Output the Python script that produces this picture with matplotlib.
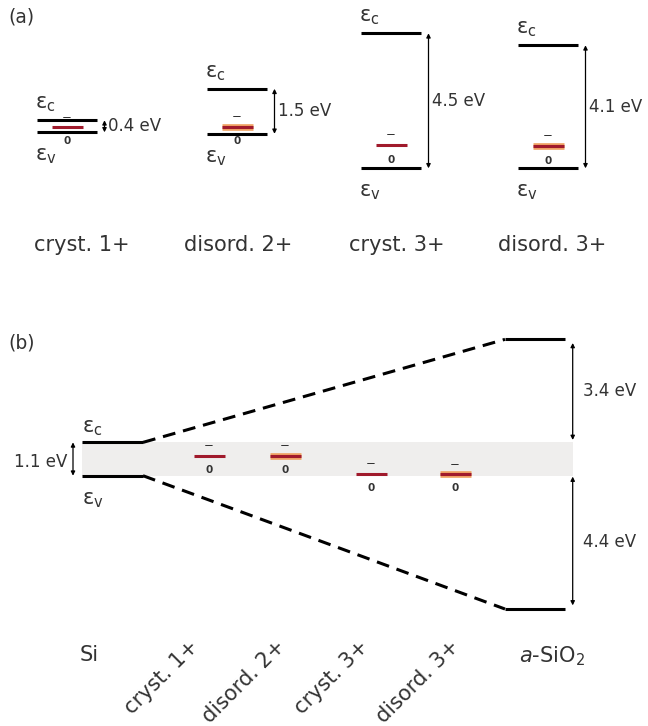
import matplotlib
matplotlib.use('Agg')
import matplotlib.pyplot as plt

# ---- donnees ----
# (a) niveaux par colonne (eV), relatifs a la bande de valence de chaque colonne
noms_a = ['cryst. 1+', 'disord. 2+', 'cryst. 3+', 'disord. 3+']
gap_a = [0.4, 1.5, 4.5, 4.1]
vbm_a = [1.2, 1.15, 0.0, 0.0]          # decalage vertical de chaque colonne
defaut_a = [0.17, 0.24, 0.78, 0.76]    # niveau du defaut au-dessus de Ev
desordre = [False, True, False, True]
etiquettes_gap_a = ['0.4 eV', '1.5 eV', '4.5 eV', '4.1 eV']

# (b) alignement sur Si (eV, origine = Ev du Si)
gap_si = 1.1
offset_bc = 3.4      # ecart des bandes de conduction Si / a-SiO2
offset_bv = 4.4      # ecart des bandes de valence Si / a-SiO2
defaut_b = [0.66, 0.66, 0.07, 0.05]

# ---- mise en page (pixels) ----
W, H = 648, 726
xa = [67, 237, 391, 548]          # centres des colonnes (a)
x_noms_a = [82, 238, 397, 552]    # centres des noms sous (a)
xb = [209, 285, 371, 455]         # centres des defauts (b)
x_noms_b = [196, 282, 366, 456]   # fin des noms inclines (b)
demi = 30                          # demi-largeur des niveaux de bande
texte = '#333333'
rouge = '#a01a2c'
orange = '#f0a264'

fig = plt.figure(figsize=(6.48, 7.26), dpi=100)

def barre_defaut(ax, x, y, dis):
    if dis:
        ax.plot([x - 15.5, x + 15.5], [y, y], color=orange, lw=4.8, solid_capstyle='butt')
    ax.plot([x - 15.5, x + 15.5], [y, y], color=rouge, lw=2.2, solid_capstyle='butt')

def charge(ax, x, y, dy_moins, dy_zero):
    ax.annotate('\u2212', xy=(x, y), xytext=(0, dy_moins), textcoords='offset pixels',
                ha='center', va='center', fontsize=8.5, color=texte)
    ax.annotate('0', xy=(x, y), xytext=(0, dy_zero), textcoords='offset pixels',
                ha='center', va='center', fontsize=7.5, fontweight='bold', color=texte)

def fleche(ax, x, y0, y1):
    ax.annotate('', xy=(x, y1), xytext=(x, y0),
                arrowprops=dict(arrowstyle='<|-|>', lw=0.9, color='black',
                                mutation_scale=6, shrinkA=0, shrinkB=0))

# ---------- panneau (a) ----------
ech_a = 30.0   # px / eV
ref_a = 168.3  # pixel de Ev = 0
ax_a = fig.add_axes([0, 1 - 260 / H, 1, 260 / H])
ax_a.set_xlim(0, W)
ax_a.set_ylim(-(260 - ref_a) / ech_a, ref_a / ech_a)
ax_a.axis('off')
ax_a.annotate('(a)', xy=(0, 1), xycoords='axes fraction', xytext=(8, -17),
              textcoords='offset pixels', ha='left', va='center', fontsize=13.5, color=texte)

for i, nom in enumerate(noms_a):
    x = xa[i]
    ev = vbm_a[i]
    ec = vbm_a[i] + gap_a[i]
    yd = vbm_a[i] + defaut_a[i]
    for y in (ev, ec):
        ax_a.plot([x - demi, x + demi], [y, y], color='black', lw=2.2, solid_capstyle='butt')
    barre_defaut(ax_a, x, yd, desordre[i])
    charge(ax_a, x, yd, 10, -14 if i < 2 else -15)
    fleche(ax_a, x + demi + 7.5, ev, ec)
    ax_a.annotate(etiquettes_gap_a[i], xy=(x + demi + 11, (ev + ec) / 2),
                  ha='left', va='center', fontsize=12, color=texte)
    ax_a.annotate('\u03b5$_\\mathregular{c}$', xy=(x - demi - 2, ec), xytext=(0, 16),
                  textcoords='offset pixels', ha='left', va='center', fontsize=15, color=texte)
    ax_a.annotate('\u03b5$_\\mathregular{v}$', xy=(x - demi - 2, ev), xytext=(0, -24),
                  textcoords='offset pixels', ha='left', va='center', fontsize=15, color=texte)
    ax_a.annotate(nom, xy=(x_noms_a[i], ax_a.get_ylim()[0]), xytext=(0, 15),
                  textcoords='offset pixels', ha='center', va='center', fontsize=15, color=texte)

# ---------- panneau (b) ----------
ech_b = 30.3
ref_b = 475.7 - 260
ax_b = fig.add_axes([0, 0, 1, (H - 260) / H])
ax_b.set_xlim(0, W)
ax_b.set_ylim(-(466 - ref_b) / ech_b, ref_b / ech_b)
ax_b.axis('off')
ax_b.annotate('(b)', xy=(0, 1), xycoords='axes fraction', xytext=(8, -83),
              textcoords='offset pixels', ha='left', va='center', fontsize=13.5, color=texte)

x_si0, x_si1 = 82, 143
x_ox0, x_ox1 = 505, 565
ec_ox = gap_si + offset_bc
ev_ox = -offset_bv

ax_b.fill_between([x_si0, 572.5], 0, gap_si, color='#efeeed', lw=0, zorder=0)
for y in (0, gap_si):
    ax_b.plot([x_si0, x_si1], [y, y], color='black', lw=2.2, solid_capstyle='butt')
for y in (ev_ox, ec_ox):
    ax_b.plot([x_ox0, x_ox1], [y, y], color='black', lw=2.2, solid_capstyle='butt')
ax_b.plot([x_si1, x_ox0], [gap_si, ec_ox], color='black', lw=2.2, ls=(0, (4.2, 2.6)))
ax_b.plot([x_si1, x_ox0], [0, ev_ox], color='black', lw=2.2, ls=(0, (4.2, 2.6)))

fleche(ax_b, 73, 0, gap_si)
ax_b.annotate('1.1 eV', xy=(67, gap_si / 2), xytext=(0, -3), textcoords='offset pixels',
              ha='right', va='center', fontsize=12, color=texte)
fleche(ax_b, 572.7, gap_si + 0.08, ec_ox - 0.12)
fleche(ax_b, 572.7, ev_ox + 0.12, -0.03)
ax_b.annotate('3.4 eV', xy=(583, (gap_si + ec_ox) / 2), ha='left', va='center',
              fontsize=12, color=texte)
ax_b.annotate('4.4 eV', xy=(583, ev_ox / 2), ha='left', va='center',
              fontsize=12, color=texte)
ax_b.annotate('\u03b5$_\\mathregular{c}$', xy=(x_si0, gap_si), xytext=(0, 14),
              textcoords='offset pixels', ha='left', va='center', fontsize=15, color=texte)
ax_b.annotate('\u03b5$_\\mathregular{v}$', xy=(x_si0, 0), xytext=(0, -24),
              textcoords='offset pixels', ha='left', va='center', fontsize=15, color=texte)

for i in range(len(defaut_b)):
    barre_defaut(ax_b, xb[i], defaut_b[i], desordre[i])
    charge(ax_b, xb[i], defaut_b[i], 10, -14)

y_bas = ax_b.get_ylim()[0]
ax_b.annotate('Si', xy=(89, y_bas), xytext=(0, 71), textcoords='offset pixels',
              ha='center', va='center', fontsize=15, color=texte)
ax_b.annotate('$\\mathit{a}$-SiO$_2$', xy=(552, y_bas), xytext=(0, 70), textcoords='offset pixels',
              ha='center', va='center', fontsize=15, color=texte)
for i, nom in enumerate(noms_a):
    ax_b.annotate(nom, xy=(x_noms_b[i], y_bas), xytext=(0, 83), textcoords='offset pixels',
                  ha='right', va='center', rotation=45, rotation_mode='anchor',
                  fontsize=15, color=texte)

fig.savefig('out.png', dpi=100)
